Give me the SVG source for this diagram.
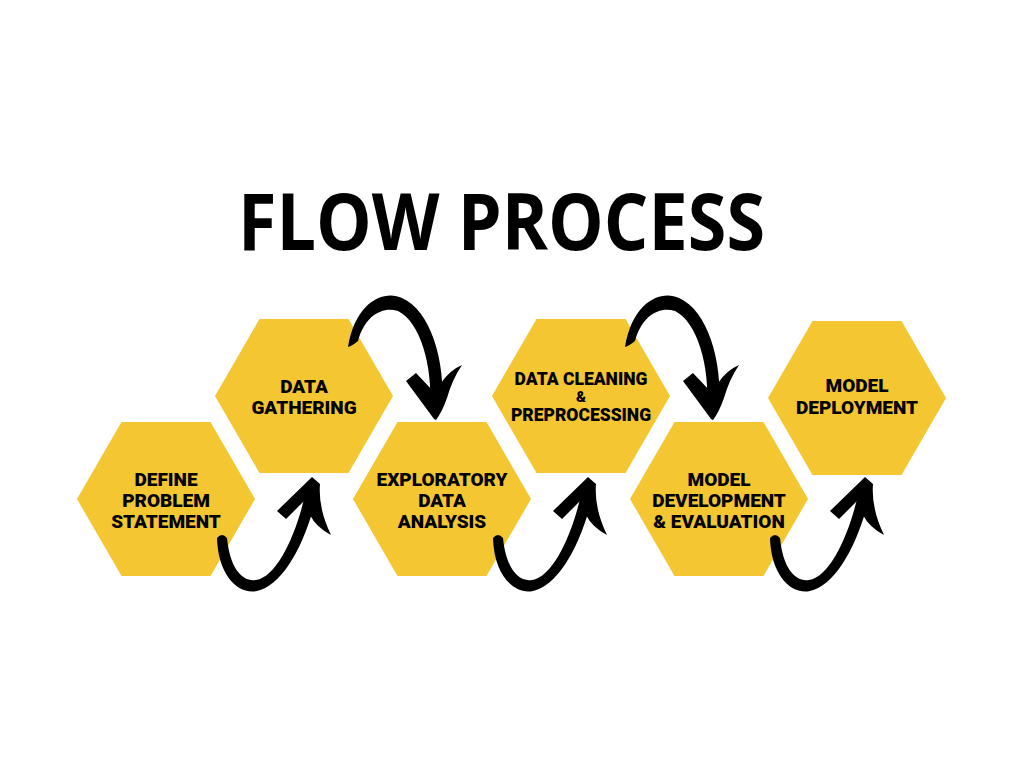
<svg xmlns="http://www.w3.org/2000/svg" xmlns:xlink="http://www.w3.org/1999/xlink" width="1024" height="768" viewBox="0 0 1024 768">
<defs>
<style>
.hex{fill:#F4C631;}
.lbl{font-family:Roboto,"Liberation Sans",sans-serif;font-weight:900;font-size:19px;fill:#000;text-anchor:middle;}
.lbl2{font-family:Roboto,"Liberation Sans",sans-serif;font-weight:900;font-size:17.5px;fill:#000;text-anchor:middle;}
.amp{font-family:Roboto,"Liberation Sans",sans-serif;font-weight:900;font-size:15px;fill:#000;text-anchor:middle;}
.title{font-family:"Open Sans","Liberation Sans",sans-serif;font-weight:700;font-size:78px;fill:#000;}
.brush{fill:#000;}
</style>
<polygon id="hexShape" points="-89,0 -44.5,-77 44.5,-77 89,0 44.5,77 -44.5,77"/>
<g id="arrowUp">
<path class="brush" d="M217,538 C218,575 238,595 257,591 C282,586 306,545 318,490 L306,490 C298,530 278,577 256,580 C242,582 230,568 227,538 Q222,532 217,538 Z"/>
<path class="brush" d="M312,477 L320,484 Q318,508 331,535 Q316,527 310,515 L305,500 L286,519 L277,511 Z"/>
</g>
<g id="arrowDown">
<path class="brush" d="M348,347 C356,300 385,290 402,298 C430,310 446,360 442,410 L430,410 C433,365 420,322 398,311 C383,306 365,315 358,341 Q352,346 348,347 Z"/>
<path class="brush" d="M434,419 L406,381 L416,373 L434,392 L441,383 Q450,370 462,365 Q452,380 447,398 Q442,412 436,420 Z"/>
</g>
</defs>
<rect width="1024" height="768" fill="#fff"/>
<text class="title" x="238" y="250" textLength="527" lengthAdjust="spacingAndGlyphs">FLOW PROCESS</text>

<g id="node1">
<use xlink:href="#hexShape" href="#hexShape" class="hex" transform="translate(166,499)"/>
<text class="lbl" x="166" y="486">DEFINE</text>
<text class="lbl" x="166" y="507">PROBLEM</text>
<text class="lbl" x="166" y="528">STATEMENT</text>
</g>
<g id="node2">
<use xlink:href="#hexShape" href="#hexShape" class="hex" transform="translate(304,396)"/>
<text class="lbl" x="304" y="393">DATA</text>
<text class="lbl" x="304" y="414">GATHERING</text>
</g>
<g id="node3">
<use xlink:href="#hexShape" href="#hexShape" class="hex" transform="translate(442,499)"/>
<text class="lbl" x="442" y="486">EXPLORATORY</text>
<text class="lbl" x="442" y="507">DATA</text>
<text class="lbl" x="442" y="528">ANALYSIS</text>
</g>
<g id="node4">
<use xlink:href="#hexShape" href="#hexShape" class="hex" transform="translate(581,396)"/>
<text class="lbl2" x="581" y="385">DATA CLEANING</text>
<text class="amp" x="581" y="402">&amp;</text>
<text class="lbl2" x="581" y="421">PREPROCESSING</text>
</g>
<g id="node5">
<use xlink:href="#hexShape" href="#hexShape" class="hex" transform="translate(719,499)"/>
<text class="lbl" x="719" y="486">MODEL</text>
<text class="lbl" x="719" y="507">DEVELOPMENT</text>
<text class="lbl" x="719" y="528">&amp; EVALUATION</text>
</g>
<g id="node6">
<use xlink:href="#hexShape" href="#hexShape" class="hex" transform="translate(857,398)"/>
<text class="lbl" x="857" y="392">MODEL</text>
<text class="lbl" x="857" y="414">DEPLOYMENT</text>
</g>

<g id="connectors">
<use xlink:href="#arrowUp" href="#arrowUp"/>
<use xlink:href="#arrowDown" href="#arrowDown"/>
<use xlink:href="#arrowUp" href="#arrowUp" transform="translate(276,0)"/>
<use xlink:href="#arrowDown" href="#arrowDown" transform="translate(277,0)"/>
<use xlink:href="#arrowUp" href="#arrowUp" transform="translate(553,0)"/>
</g>
</svg>
